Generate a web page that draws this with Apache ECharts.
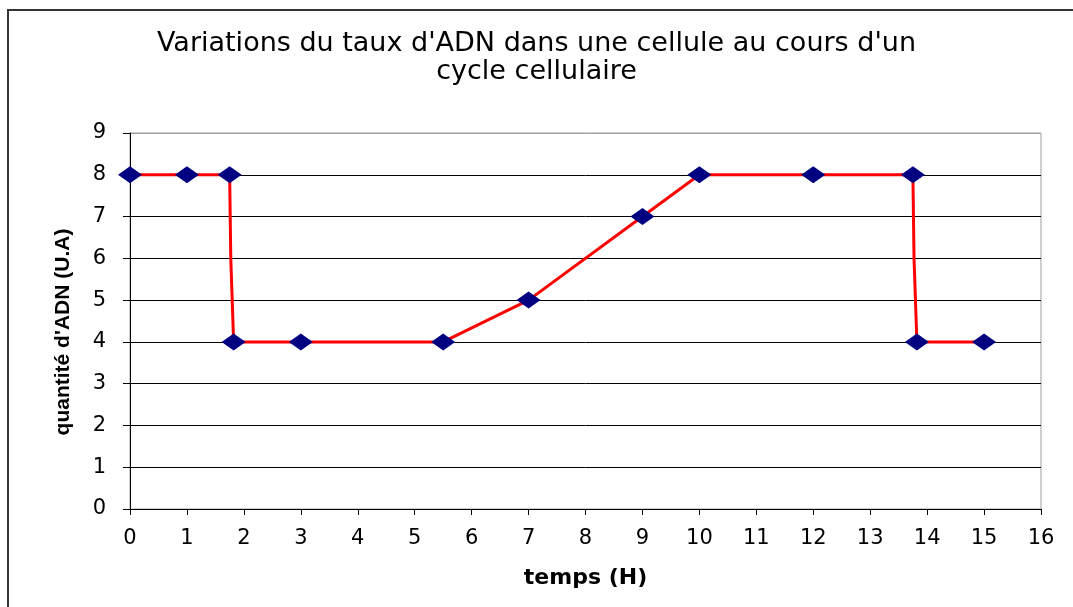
<!DOCTYPE html>
<html>
<head>
<meta charset="utf-8">
<script src="https://cdn.jsdelivr.net/npm/echarts@6/dist/echarts.min.js"></script>
<style>
  html, body { margin: 0; padding: 0; background: #fff; }
  #chart { width: 1073px; height: 607px; }
</style>
</head>
<body>
<div id="chart"></div>
<script>
// temps (H) et quantité d'ADN
var timeH = [0, 1, 1.75, 1.77, 1.82, 3, 5.5, 7, 9, 10, 12, 13.75, 13.77, 13.82, 15];
var adn   = [8, 8, 8,    6,    4,    4, 4,   5, 7, 8,  8,  8,     6,     4,     4];
// point sans marqueur (coude de la ligne verticale)
var marked = [1, 1, 1, 0, 1, 1, 1, 1, 1, 1, 1, 1, 0, 1, 1];

var chart = echarts.init(document.getElementById('chart'));

var points = timeH.map(function (t, i) {
  var p = { value: [t, adn[i]] };
  if (!marked[i]) p.symbol = 'none';
  return p;
});

// lignes de grille noires, la dernière (haut du cadre) grise
var gridColors = [];
for (var i = 0; i < 9; i++) gridColors.push('#000');
gridColors.push('#a0a0a0');

var option = {
  backgroundColor: '#fff',
  animation: false,
  title: {
    text: "Variations du taux d'ADN dans une cellule au cours d'un\ncycle cellulaire",
    left: 'center',
    top: 25,
    textStyle: {
      fontFamily: 'DejaVu Sans',
      fontSize: 27,
      fontWeight: 'normal',
      color: '#000',
      lineHeight: 28
    }
  },
  graphic: [{
    type: 'rect',
    shape: { x: 8, y: 10, width: 1100, height: 700 },
    style: { fill: null, stroke: '#333', lineWidth: 2 },
    silent: true
  }],
  grid: {
    left: 130,
    right: 32,
    top: 133,
    bottom: 98,
    show: true,
    borderColor: '#a0a0a0',
    borderWidth: 1
  },
  xAxis: {
    type: 'value',
    min: 0,
    max: 16,
    interval: 1,
    name: 'temps (H)',
    nameLocation: 'middle',
    nameGap: 58,
    nameTextStyle: {
      fontFamily: 'DejaVu Sans',
      fontWeight: 'bold',
      fontSize: 22,
      color: '#000'
    },
    axisLine: { lineStyle: { color: '#000', width: 1 } },
    axisTick: { length: 6, lineStyle: { color: '#000' } },
    axisLabel: {
      margin: 19,
      fontFamily: 'DejaVu Sans',
      fontSize: 21,
      color: '#000'
    },
    splitLine: { show: false }
  },
  yAxis: {
    type: 'value',
    min: 0,
    max: 9,
    interval: 1,
    name: "quantité d'ADN (U.A)",
    nameLocation: 'middle',
    nameGap: 56,
    nameTextStyle: {
      fontFamily: 'Liberation Sans',
      fontWeight: 'bold',
      fontSize: 21,
      color: '#000',
      padding: [0, 22, 0, 0]
    },
    axisLine: { show: true, lineStyle: { color: '#000', width: 1 } },
    axisTick: { show: true, length: 7, lineStyle: { color: '#000' } },
    axisLabel: {
      margin: 24,
      fontFamily: 'DejaVu Sans',
      fontSize: 21,
      color: '#000'
    },
    splitLine: { show: true, lineStyle: { color: gridColors, width: 1 } }
  },
  series: [{
    type: 'line',
    data: points,
    symbol: 'diamond',
    symbolSize: [24, 17],
    itemStyle: { color: '#000080' },
    lineStyle: { color: '#ff0000', width: 3 },
    z: 3
  }]
};

chart.setOption(option);
</script>
</body>
</html>
